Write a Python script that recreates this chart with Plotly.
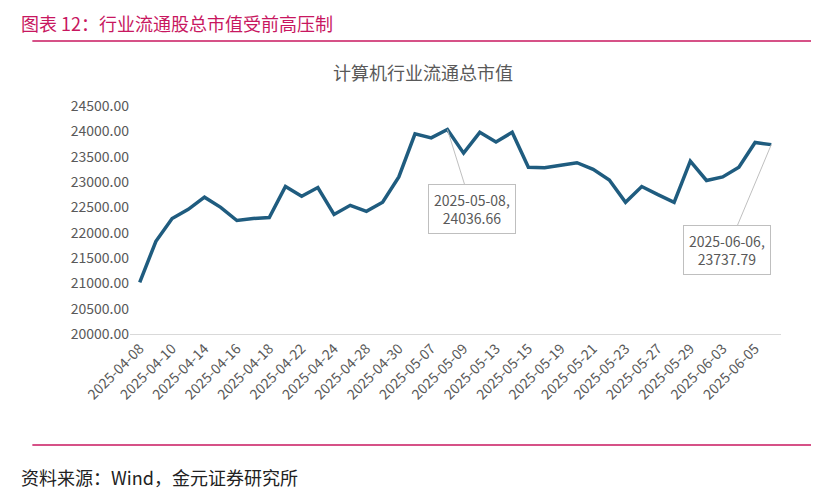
import plotly.graph_objects as go

dates = ["2025-04-08","2025-04-09","2025-04-10","2025-04-11","2025-04-14","2025-04-15","2025-04-16","2025-04-17","2025-04-18","2025-04-21",
         "2025-04-22","2025-04-23","2025-04-24","2025-04-25","2025-04-28","2025-04-29","2025-04-30","2025-05-06","2025-05-07","2025-05-08",
         "2025-05-09","2025-05-12","2025-05-13","2025-05-14","2025-05-15","2025-05-16","2025-05-19","2025-05-20","2025-05-21","2025-05-22",
         "2025-05-23","2025-05-26","2025-05-27","2025-05-28","2025-05-29","2025-05-30","2025-06-03","2025-06-04","2025-06-05","2025-06-06"]
values = [21020,21830,22280,22460,22700,22500,22240,22280,22300,22910,
          22720,22890,22360,22540,22420,22600,23100,23950,23870,24036.66,
          23570,23980,23790,23980,23290,23280,23330,23380,23250,23040,
          22600,22910,22750,22600,23410,23030,23100,23290,23780,23737.79]
yticks = [20000,20500,21000,21500,22000,22500,23000,23500,24000,24500]

fig = go.Figure(go.Scatter(x=dates, y=values, mode="lines",
                           line=dict(color="#1F5C7F", width=3.5), hoverinfo="skip"))
font = "Noto Sans CJK SC"
for i, (ax, ay) in zip([19, 39], [(25, 80), (-44, 105)]):
    fig.add_annotation(x=dates[i], y=values[i], text=f"{dates[i]},<br>{values[i]:.2f}",
                       showarrow=True, arrowhead=0, arrowcolor="#BFBFBF", arrowwidth=1,
                       ax=ax, ay=ay, bordercolor="#BFBFBF", borderwidth=1, borderpad=5,
                       bgcolor="white", font=dict(size=14, color="#595959", family=font))
fig.update_layout(
    width=819, height=491, paper_bgcolor="white", plot_bgcolor="white",
    margin=dict(l=122, r=46, t=98, b=165), showlegend=False,
    font=dict(family=font, color="#595959"),
    xaxis=dict(type="category", tickvals=dates[::2], tickangle=-45, tickfont=dict(size=14),
               range=[-0.6, 39.6],
               showline=True, linecolor="#D9D9D9", showgrid=False, ticks=""),
    yaxis=dict(range=[20000, 24500], tickvals=yticks, ticktext=[f"{v:.2f}" for v in yticks],
               tickfont=dict(size=14), showgrid=False, showline=False, zeroline=False),
    shapes=[dict(type="line", xref="paper", yref="paper", x0=-0.15, x1=1.06, y0=1.285, y1=1.285,
                 line=dict(color="#C8175F", width=1.5)),
            dict(type="line", xref="paper", yref="paper", x0=-0.15, x1=1.06, y0=-0.487, y1=-0.487,
                 line=dict(color="#C8175F", width=1.5))],
)
fig.add_annotation(xref="paper", yref="paper", x=-0.17, y=1.30, xanchor="left", yanchor="bottom",
                   text="图表 12：行业流通股总市值受前高压制", showarrow=False,
                   font=dict(size=18, color="#C8175F", family=font))
fig.add_annotation(xref="paper", yref="paper", x=0.45, y=1.085, xanchor="center", yanchor="bottom",
                   text="计算机行业流通总市值", showarrow=False, font=dict(size=18, color="#595959", family=font))
fig.add_annotation(xref="paper", yref="paper", x=-0.17, y=-0.56, xanchor="left", yanchor="top",
                   text="资料来源：Wind，金元证券研究所", showarrow=False, font=dict(size=18, color="#222", family=font))
fig.write_html("out.html")
